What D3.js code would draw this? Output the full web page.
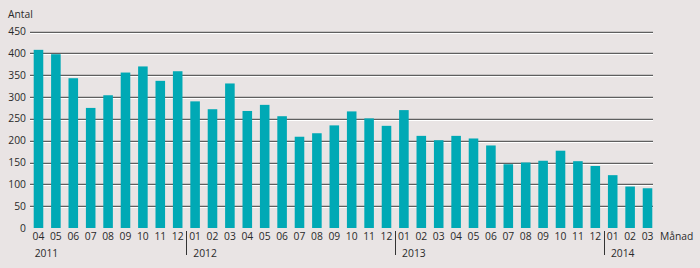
<!DOCTYPE html>
<html>
<head>
<meta charset="utf-8">
<script src="https://cdn.jsdelivr.net/npm/d3@7"></script>
<style>
  body { margin: 0; background: #e9e4e4; }
  svg { display: block; font-family: "Open Sans", sans-serif; }
</style>
</head>
<body>
<svg id="chart" width="700" height="268"></svg>
<script>
// month labels and yearly counts, 2011-04 .. 2014-03
const months = ["04","05","06","07","08","09","10","11","12",
  "01","02","03","04","05","06","07","08","09","10","11","12",
  "01","02","03","04","05","06","07","08","09","10","11","12",
  "01","02","03"];
const years = ["2011","2011","2011","2011","2011","2011","2011","2011","2011",
  "2012","2012","2012","2012","2012","2012","2012","2012","2012","2012","2012","2012",
  "2013","2013","2013","2013","2013","2013","2013","2013","2013","2013","2013","2013",
  "2014","2014","2014"];
const counts = [408, 398, 343, 275, 304, 356, 370, 337, 359,
  290, 272, 331, 268, 282, 256, 209, 217, 235, 267, 251, 234,
  270, 211, 201, 211, 205, 189, 146, 150, 154, 177, 153, 142,
  121, 95, 91];
const yTicks = [0, 50, 100, 150, 200, 250, 300, 350, 400, 450];

const svg = d3.select("#chart");
const keys = months.map((m, i) => years[i] + "-" + m);

const x = d3.scaleBand()
  .domain(keys)
  .range([29, 657])
  .paddingInner(0.45)
  .paddingOuter(0.27);

const y = d3.scaleLinear().domain([0, 450]).range([228, 31.5]);

// background
svg.append("rect").attr("width", 700).attr("height", 268).attr("fill", "#e9e4e4");

// gridlines (dark line with light highlight underneath)
const grid = svg.append("g");
yTicks.filter(d => d > 0).forEach(t => {
  grid.append("line")
    .attr("x1", 30).attr("x2", 653)
    .attr("y1", Math.round(y(t)) + 0.5).attr("y2", Math.round(y(t)) + 0.5)
    .attr("stroke", "#5f5f5f").attr("stroke-width", 1.3);
  grid.append("line")
    .attr("x1", 30).attr("x2", 653)
    .attr("y1", Math.round(y(t)) + 1.5).attr("y2", Math.round(y(t)) + 1.5)
    .attr("stroke", "#ffffff").attr("stroke-width", 1);
});

// bars
svg.append("g").selectAll("rect")
  .data(counts)
  .join("rect")
  .attr("x", (d, i) => x(keys[i]))
  .attr("width", x.bandwidth())
  .attr("y", d => y(d))
  .attr("height", d => y(0) - y(d))
  .attr("fill", "#00a9b5");

// y axis labels
svg.append("g").selectAll("text")
  .data(yTicks)
  .join("text")
  .attr("x", 26)
  .attr("y", d => y(d) + 3.5)
  .attr("text-anchor", "end")
  .attr("font-size", 10.3)
  .attr("fill", "#2a2a2a")
  .text(d => d);

svg.append("text")
  .attr("x", 8).attr("y", 18)
  .attr("font-size", 10.3)
  .attr("fill", "#2a2a2a")
  .text("Antal");

// month labels
svg.append("g").selectAll("text")
  .data(months)
  .join("text")
  .attr("x", (d, i) => x(keys[i]) + x.bandwidth() / 2)
  .attr("y", 239.5)
  .attr("text-anchor", "middle")
  .attr("font-size", 10.3)
  .attr("fill", "#2a2a2a")
  .text(d => d);

svg.append("text")
  .attr("x", 660).attr("y", 239.5)
  .attr("font-size", 10.3)
  .attr("fill", "#2a2a2a")
  .text("Månad");

// year labels and separators
const yearStarts = keys.map((k, i) => i).filter(i => i === 0 || years[i] !== years[i - 1]);
const gap = x.step() - x.bandwidth();
yearStarts.forEach(i => {
  const xs = x(keys[i]);
  if (i > 0) {
    svg.append("line")
      .attr("x1", Math.round(xs - gap / 2) + 0.5).attr("x2", Math.round(xs - gap / 2) + 0.5)
      .attr("y1", 231).attr("y2", 255)
      .attr("stroke", "#333").attr("stroke-width", 1);
  }
  svg.append("text")
    .attr("x", i === 0 ? xs + 1 : xs + 3)
    .attr("y", 256.5)
    .attr("font-size", 10.3)
    .attr("fill", "#2a2a2a")
    .text(years[i]);
});
</script>
</body>
</html>
